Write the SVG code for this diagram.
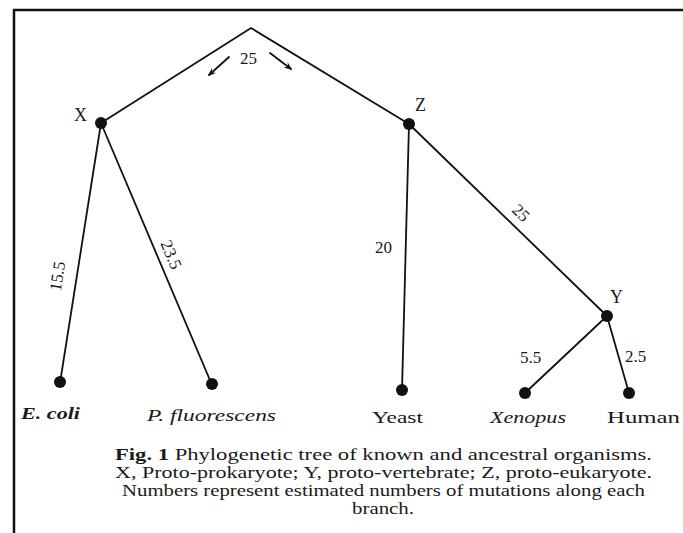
<svg xmlns="http://www.w3.org/2000/svg" width="683" height="533" viewBox="0 0 683 533">
<style>
.e{stroke:#111;stroke-width:1.8;fill:none;stroke-linecap:round}
.dot{fill:#111}
.t{fill:#1a1a1a}
.lab{font-size:18px}
.leaf{font-size:17.5px}
.num{font-size:17px}
.cap{font-size:16px}
.it{font-style:italic}
</style>
<defs>
<marker id="ah" viewBox="0 0 12 10" refX="10" refY="5" markerWidth="4.5" markerHeight="4" orient="auto">
<path d="M0,0 L12,5 L0,10 L4,5 Z" fill="#111"/>
</marker>
</defs>
<rect width="683" height="533" fill="#fff"/>
<g id="frame">
<line x1="13" y1="10" x2="683" y2="10" stroke="#111" stroke-width="2.5"/>
<line x1="14" y1="9" x2="14" y2="533" stroke="#111" stroke-width="2.5"/>
</g>
<g font-family="Liberation Serif, Times New Roman, Times, serif">
<g id="connectors">
<polyline class="e" points="101,123 251,28 409,124"/>
<line class="e" x1="101" y1="123" x2="60" y2="383"/>
<line class="e" x1="101" y1="123" x2="212" y2="385"/>
<line class="e" x1="409" y1="124" x2="402" y2="390"/>
<line class="e" x1="409" y1="124" x2="607" y2="316"/>
<line class="e" x1="607" y1="316" x2="525" y2="393"/>
<line class="e" x1="607" y1="316" x2="629" y2="393"/>
<line class="e" stroke-width="3" x1="229" y1="57" x2="209" y2="75" marker-end="url(#ah)"/>
<line class="e" stroke-width="3" x1="270" y1="53" x2="291" y2="69" marker-end="url(#ah)"/>
<text class="t num" x="240" y="64">25</text>
<text class="t num" x="375" y="253">20</text>
<text class="t num" transform="translate(511,211) rotate(44)">25</text>
<text class="t num" text-anchor="middle" transform="translate(63,277) rotate(-81)">15.5</text>
<text class="t num" text-anchor="middle" transform="translate(166,257) rotate(67)">23.5</text>
<text class="t num" x="520" y="363">5.5</text>
<text class="t num" x="625" y="362">2.5</text>
</g>
<g id="node-X"><circle class="dot" cx="101" cy="123" r="6"/><text class="t lab" x="74" y="121">X</text></g>
<g id="node-Z"><circle class="dot" cx="409" cy="124" r="6"/><text class="t lab" x="415" y="111">Z</text></g>
<g id="node-Y"><circle class="dot" cx="607" cy="316" r="6"/><text class="t lab" x="610" y="303">Y</text></g>
<g id="leaf-ecoli"><circle class="dot" cx="60" cy="382" r="6"/><text class="t leaf it" font-weight="bold" x="21" y="419" textLength="59" lengthAdjust="spacingAndGlyphs">E. coli</text></g>
<g id="leaf-pfluorescens"><circle class="dot" cx="212" cy="384" r="6"/><text class="t leaf it" x="147" y="421" textLength="129" lengthAdjust="spacingAndGlyphs">P. fluorescens</text></g>
<g id="leaf-yeast"><circle class="dot" cx="402" cy="390" r="6"/><text class="t leaf" x="372" y="423" textLength="51" lengthAdjust="spacingAndGlyphs">Yeast</text></g>
<g id="leaf-xenopus"><circle class="dot" cx="525" cy="393" r="6"/><text class="t leaf it" x="490" y="423" textLength="76" lengthAdjust="spacingAndGlyphs">Xenopus</text></g>
<g id="leaf-human"><circle class="dot" cx="629" cy="393" r="6"/><text class="t leaf" x="607" y="423" textLength="73" lengthAdjust="spacingAndGlyphs">Human</text></g>
<g id="caption">
<text class="t cap" x="115" y="460" textLength="537" lengthAdjust="spacingAndGlyphs"><tspan font-weight="bold">Fig. 1</tspan>  Phylogenetic tree of known and ancestral organisms.</text>
<text class="t cap" x="115" y="478" textLength="537" lengthAdjust="spacingAndGlyphs">X, Proto-prokaryote;  Y, proto-vertebrate;  Z, proto-eukaryote.</text>
<text class="t cap" x="122" y="496" textLength="523" lengthAdjust="spacingAndGlyphs">Numbers represent estimated numbers of mutations along each</text>
<text class="t cap" x="352" y="514" textLength="62" lengthAdjust="spacingAndGlyphs">branch.</text>
</g>
</g>
</svg>
